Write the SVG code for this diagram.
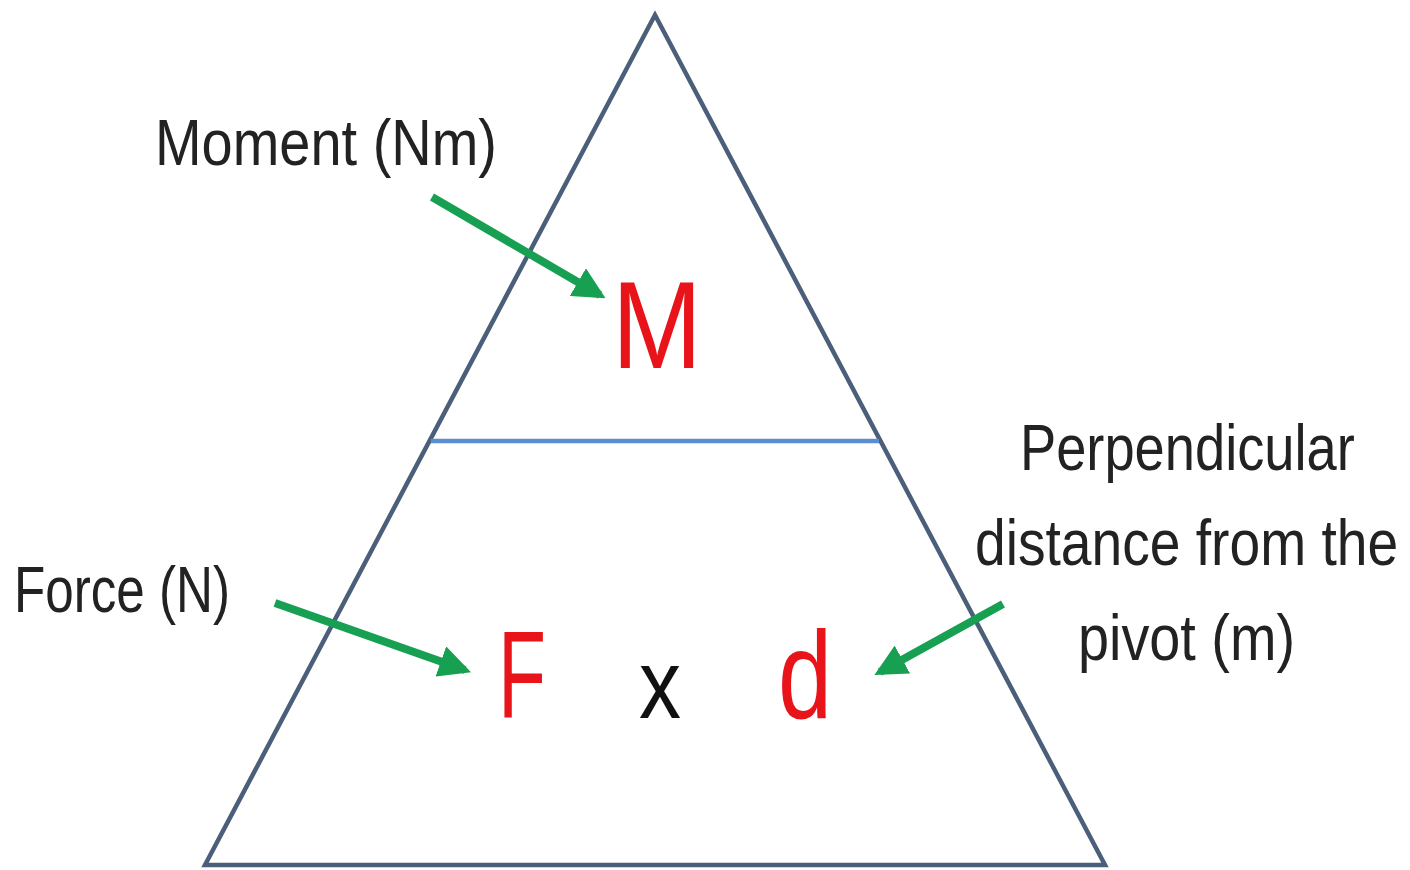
<svg xmlns="http://www.w3.org/2000/svg" width="1410" height="870" viewBox="0 0 1410 870">
<defs>
<marker id="ah" viewBox="0 0 10 10" refX="8" refY="5" markerWidth="4" markerHeight="4" orient="auto" markerUnits="strokeWidth">
<path d="M0,0 L10,5 L0,10 Z" fill="#17a052"/>
</marker>
<style>
.lbl{font-family:"Liberation Sans",Arial,sans-serif;font-size:64px;fill:#222}
.sym{font-family:"Liberation Sans",Arial,sans-serif;font-size:124px;fill:#e8141a}
.arr{stroke:#17a052;stroke-width:8;fill:none;marker-end:url(#ah)}
</style>
</defs>
<rect width="1410" height="870" fill="#fff"/>
<g id="triangle">
<polygon points="655,15 205,865 1105,865" fill="none" stroke="#4b5f7a" stroke-width="4.5"/>
<line x1="431" y1="441" x2="879" y2="441" stroke="#5b8ecf" stroke-width="4.5"/>
</g>
<g id="node-M"><text class="sym" x="612" y="368" textLength="90" lengthAdjust="spacingAndGlyphs">M</text></g>
<g id="node-F"><text class="sym" x="498" y="718" textLength="48" lengthAdjust="spacingAndGlyphs">F</text></g>
<g id="node-x"><text class="lbl" x="639" y="718" style="font-size:98px;fill:#111" textLength="42" lengthAdjust="spacingAndGlyphs">x</text></g>
<g id="node-d"><text class="sym" x="778" y="718" textLength="54" lengthAdjust="spacingAndGlyphs">d</text></g>
<g id="label-moment"><text class="lbl" x="155" y="165" textLength="342" lengthAdjust="spacingAndGlyphs">Moment (Nm)</text></g>
<g id="label-force"><text class="lbl" x="14" y="612" textLength="216" lengthAdjust="spacingAndGlyphs">Force (N)</text></g>
<g id="label-distance">
<text class="lbl" transform="translate(1020,470) scale(0.848,1)" x="0" y="0">Perpendicular</text>
<text class="lbl" transform="translate(975,565) scale(0.862,1)" x="0" y="0">distance from the</text>
<text class="lbl" transform="translate(1078,660) scale(0.872,1)" x="0" y="0">pivot (m)</text>
</g>
<g id="connectors">
<line class="arr" x1="432" y1="197" x2="600" y2="295"/>
<line class="arr" x1="275" y1="603" x2="465" y2="670"/>
<line class="arr" x1="1003" y1="604" x2="880" y2="672"/>
</g>
</svg>
